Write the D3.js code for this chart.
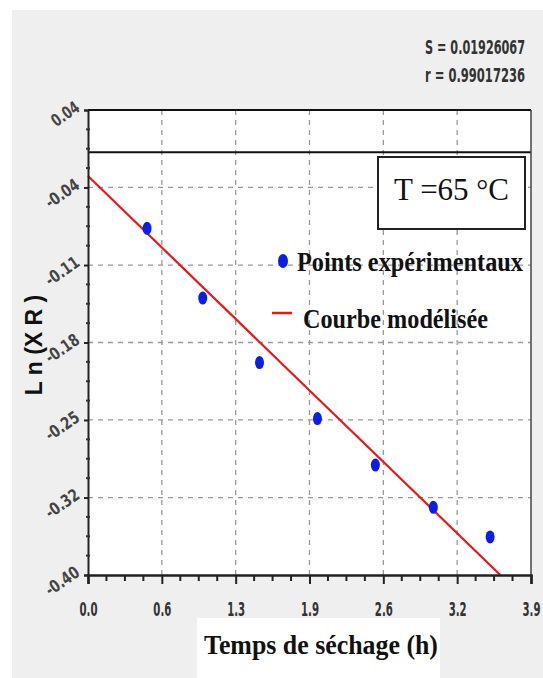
<!DOCTYPE html>
<html>
  <head>
    <meta charset="utf-8">
    <style>
        body { margin: 0; background: #fff; }
        svg { display: block; }
    </style>
    <script src="https://d3js.org/d3.v7.min.js"></script>
  </head>
  <body>
    <svg></svg>
    <script>
    // data
    var tempsH = [0.52, 1.01, 1.51, 2.02, 2.53, 3.04, 3.54];
    var lnXR = [-0.072, -0.138, -0.199, -0.252, -0.296, -0.336, -0.364];
    var modelX = [0, 3.63];
    var modelY = [-0.0225, -0.40];

    var xTicks = [0, 0.65, 1.3, 1.95, 2.6, 3.25, 3.9];
    var xTickLabels = ["0.0", "0.6", "1.3", "1.9", "2.6", "3.2", "3.9"];
    var yTicks = [0.04, -0.0333, -0.1067, -0.18, -0.2533, -0.3267, -0.40];
    var yTickLabels = ["0.04", "-0.04", "-0.11", "-0.18", "-0.25", "-0.32", "-0.40"];

    var statLines = ["S = 0.01926067", "r = 0.99017236"];

    var W = 543, H = 678;
    var pLeft = 88, pRight = 531, pTop = 110, pBottom = 575;

    var svg = d3.select("svg")
        .attr("width", W)
        .attr("height", H);

    var narrow = "'Liberation Sans Narrow', 'DejaVu Sans Condensed', sans-serif";
    var serif = "'Liberation Serif', 'DejaVu Serif', serif";

    // grey page background
    svg.append("rect")
        .attr("x", 12).attr("y", 10)
        .attr("width", W - 12).attr("height", H - 10)
        .attr("fill", "#efefef");

    var x = d3.scaleLinear().domain([0, 3.9]).range([pLeft, pRight]);
    var y = d3.scaleLinear().domain([-0.40, 0.04]).range([pBottom, pTop]);

    // plot area
    svg.append("rect")
        .attr("x", pLeft).attr("y", pTop)
        .attr("width", pRight - pLeft).attr("height", pBottom - pTop)
        .attr("fill", "#fff");

    // dashed grid
    svg.append("g").selectAll("line")
        .data(xTicks.slice(1, -1))
        .enter().append("line")
          .attr("x1", function(d) { return x(d); })
          .attr("x2", function(d) { return x(d); })
          .attr("y1", pTop).attr("y2", pBottom)
          .attr("stroke", "#999")
          .attr("stroke-width", 1.3)
          .attr("stroke-dasharray", "5,5");

    svg.append("g").selectAll("line")
        .data(yTicks.slice(1, -1))
        .enter().append("line")
          .attr("x1", pLeft).attr("x2", pRight)
          .attr("y1", function(d) { return y(d); })
          .attr("y2", function(d) { return y(d); })
          .attr("stroke", "#999")
          .attr("stroke-width", 1.3)
          .attr("stroke-dasharray", "5,5");

    // zero line and frame
    svg.append("line")
        .attr("x1", pLeft).attr("x2", pRight)
        .attr("y1", y(0)).attr("y2", y(0))
        .attr("stroke", "#111").attr("stroke-width", 2);

    svg.append("line")
        .attr("x1", pLeft).attr("x2", pRight)
        .attr("y1", pTop).attr("y2", pTop)
        .attr("stroke", "#111").attr("stroke-width", 2);

    svg.append("line")
        .attr("x1", pRight).attr("x2", pRight)
        .attr("y1", pTop).attr("y2", pBottom)
        .attr("stroke", "#444").attr("stroke-width", 1.5);

    // minor ticks: three between each pair of major ticks
    var xMinor = [];
    for (var i = 0; i < xTicks.length - 1; i++) {
        var step = (xTicks[i + 1] - xTicks[i]) / 4;
        for (var k = 1; k < 4; k++) xMinor.push(xTicks[i] + k * step);
    }
    var yMinor = [];
    for (var i = 0; i < yTicks.length - 1; i++) {
        var step = (yTicks[i + 1] - yTicks[i]) / 4;
        for (var k = 1; k < 4; k++) yMinor.push(yTicks[i] + k * step);
    }

    // model curve
    var line = d3.line()
        .x(function(d) { return x(d[0]); })
        .y(function(d) { return y(d[1]); });
    svg.append("path")
        .datum(modelX.map(function(d, i) { return [d, modelY[i]]; }))
        .attr("fill", "none")
        .attr("stroke", "#e41a1c")
        .attr("stroke-width", 2.2)
        .attr("d", line);

    // x axis
    var gx = svg.append("g").attr("transform", "translate(0," + pBottom + ")");
    gx.call(d3.axisBottom(x).tickValues(xTicks).tickSize(9).tickFormat(function(d, i) { return xTickLabels[i]; }));
    gx.select(".domain").attr("stroke", "#222").attr("stroke-width", 2.5);
    gx.selectAll(".tick line").attr("stroke", "#222").attr("stroke-width", 2);
    gx.selectAll(".tick text")
        .attr("y", 0)
        .attr("dy", null)
        .attr("transform", "translate(0,41)")
        .attr("font-family", narrow)
        .attr("font-weight", "bold")
        .attr("font-size", 20)
        .attr("fill", "#333")
        .attr("textLength", 18)
        .attr("lengthAdjust", "spacingAndGlyphs");
    gx.append("g").selectAll("line")
        .data(xMinor)
        .enter().append("line")
          .attr("x1", function(d) { return x(d); })
          .attr("x2", function(d) { return x(d); })
          .attr("y1", 0).attr("y2", 6)
          .attr("stroke", "#222").attr("stroke-width", 2);

    // y axis
    var gy = svg.append("g").attr("transform", "translate(" + pLeft + ",0)");
    gy.call(d3.axisLeft(y).tickValues(yTicks).tickSize(4).tickFormat(""));
    gy.select(".domain").attr("stroke", "#222").attr("stroke-width", 2);
    gy.selectAll(".tick line").attr("stroke", "#222").attr("stroke-width", 2);
    gy.append("g").selectAll("line")
        .data(yMinor)
        .enter().append("line")
          .attr("x1", -2).attr("x2", 2)
          .attr("y1", function(d) { return y(d); })
          .attr("y2", function(d) { return y(d); })
          .attr("stroke", "#333").attr("stroke-width", 2);

    svg.append("g").selectAll("text")
        .data(yTicks)
        .enter().append("text")
          .attr("transform", function(d) { return "translate(78," + (y(d) - 4) + ") rotate(-35)"; })
          .attr("text-anchor", "end")
          .attr("dominant-baseline", "middle")
          .attr("font-family", narrow)
          .attr("font-weight", "bold")
          .attr("font-size", 17)
          .attr("fill", "#444")
          .attr("textLength", function(d, i) { return yTickLabels[i].length * 7.5; })
          .attr("lengthAdjust", "spacingAndGlyphs")
          .text(function(d, i) { return yTickLabels[i]; });

    // experimental points
    svg.append("g").selectAll("ellipse")
        .data(tempsH)
        .enter().append("ellipse")
          .attr("cx", function(d) { return x(d); })
          .attr("cy", function(d, i) { return y(lnXR[i]); })
          .attr("rx", 4.5).attr("ry", 6.5)
          .attr("fill", "#0a1ee6");

    // temperature box
    svg.append("rect")
        .attr("x", 378).attr("y", 157)
        .attr("width", 147).attr("height", 72)
        .attr("fill", "#fff")
        .attr("stroke", "#222").attr("stroke-width", 2);
    var tt = svg.append("text")
        .attr("x", 394).attr("y", 200)
        .attr("font-family", serif)
        .attr("font-size", 31)
        .attr("fill", "#111");
    tt.append("tspan").text("T =65 ");
    tt.append("tspan").attr("font-size", 30).text("°");
    tt.append("tspan").text("C");

    // legend
    svg.append("ellipse")
        .attr("cx", 283).attr("cy", 261)
        .attr("rx", 5).attr("ry", 7)
        .attr("fill", "#0a1ee6");
    svg.append("text")
        .attr("x", 297).attr("y", 271)
        .attr("font-family", serif)
        .attr("font-weight", "bold")
        .attr("font-size", 27)
        .attr("fill", "#111")
        .attr("textLength", 226)
        .attr("lengthAdjust", "spacingAndGlyphs")
        .text("Points expérimentaux");

    svg.append("line")
        .attr("x1", 272).attr("x2", 292)
        .attr("y1", 313).attr("y2", 313)
        .attr("stroke", "#e41a1c").attr("stroke-width", 2.5);
    svg.append("text")
        .attr("x", 303).attr("y", 328)
        .attr("font-family", serif)
        .attr("font-weight", "bold")
        .attr("font-size", 27)
        .attr("fill", "#111")
        .attr("textLength", 185)
        .attr("lengthAdjust", "spacingAndGlyphs")
        .text("Courbe modélisée");

    // fit statistics
    svg.append("g").selectAll("text")
        .data(statLines)
        .enter().append("text")
          .attr("x", 425)
          .attr("y", function(d, i) { return 54 + i * 28; })
          .attr("font-family", narrow)
          .attr("font-weight", "bold")
          .attr("font-size", 20)
          .attr("fill", "#333")
          .attr("textLength", 100)
          .attr("lengthAdjust", "spacingAndGlyphs")
          .text(function(d) { return d; });

    // axis titles
    svg.append("rect")
        .attr("x", 197).attr("y", 618)
        .attr("width", 243).attr("height", H - 618)
        .attr("fill", "#fff");
    svg.append("text")
        .attr("x", 204).attr("y", 654)
        .attr("font-family", serif)
        .attr("font-weight", "bold")
        .attr("font-size", 28)
        .attr("fill", "#111")
        .attr("textLength", 234)
        .attr("lengthAdjust", "spacingAndGlyphs")
        .text("Temps de séchage (h)");

    svg.append("text")
        .attr("transform", "translate(42,345) rotate(-90)")
        .attr("text-anchor", "middle")
        .attr("font-family", "'Liberation Sans', Arial, sans-serif")
        .attr("font-weight", "bold")
        .attr("font-size", 23)
        .attr("fill", "#111")
        .text("L n (X R )");
    </script>
  </body>
</html>
